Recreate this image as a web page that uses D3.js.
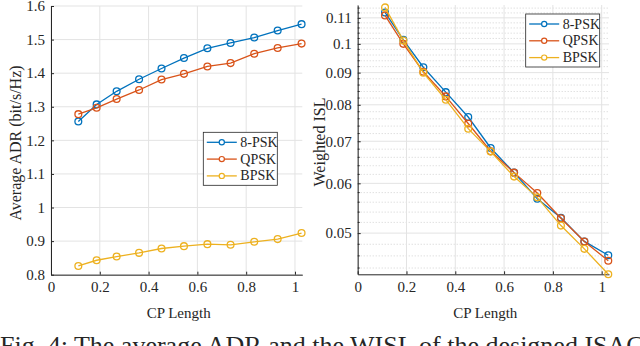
<!DOCTYPE html>
<html>
<head>
    <script src="https://d3js.org/d3.v7.min.js"></script>
    <style>
        body { margin: 0; background: #ffffff; }
        svg text { font-family: 'Liberation Serif', 'Times New Roman', serif; fill: #262626; }
    </style>
</head>
<body>
    <svg id="chart" width="640" height="346"></svg>
    <script>
        // values
        var cpLength = [0.112, 0.187, 0.269, 0.361, 0.453, 0.545, 0.641, 0.736, 0.833, 0.929, 1.027];
        var adr8psk = [1.256, 1.307, 1.346, 1.382, 1.414, 1.445, 1.474, 1.490, 1.506, 1.527, 1.546];
        var adrQpsk = [1.278, 1.297, 1.323, 1.350, 1.381, 1.398, 1.420, 1.430, 1.458, 1.475, 1.488];
        var adrBpsk = [0.826, 0.843, 0.854, 0.865, 0.878, 0.885, 0.891, 0.889, 0.898, 0.906, 0.924];
        var wisl8psk = [0.1122, 0.1015, 0.0918, 0.0838, 0.0765, 0.0683, 0.0624, 0.0567, 0.0529, 0.0485, 0.0461];
        var wislQpsk = [0.1110, 0.1000, 0.0903, 0.0825, 0.0747, 0.0675, 0.0624, 0.0579, 0.0528, 0.0485, 0.0452];
        var wislBpsk = [0.1143, 0.1012, 0.0900, 0.0815, 0.0733, 0.0674, 0.0615, 0.0570, 0.0514, 0.0472, 0.0430];
        var seriesNames = ["8-PSK", "QPSK", "BPSK"];
        var xTicks = [0, 0.2, 0.4, 0.6, 0.8, 1];
        var adrTicks = [0.8, 0.9, 1, 1.1, 1.2, 1.3, 1.4, 1.5, 1.6];
        var wislTicks = [0.05, 0.06, 0.07, 0.08, 0.09, 0.1, 0.11];
        var wislMinorTicks = [0.044, 0.046, 0.048, 0.052, 0.054, 0.056, 0.058, 0.062, 0.064, 0.066, 0.068,
            0.072, 0.074, 0.076, 0.078, 0.082, 0.084, 0.086, 0.088, 0.092, 0.094, 0.096, 0.098,
            0.102, 0.104, 0.106, 0.108, 0.112, 0.114];
        var caption = "Fig. 4: The average ADR and the WISL of the designed ISAC";

        var colors = ["#0072bd", "#d95319", "#edb120"];
        var axisColor = "#262626";
        var svg = d3.select("#chart");

        function drawPanel(opts) {
            var g = svg.append("g");
            var x = opts.x, y = opts.y;
            var x0 = x.range()[0], x1 = x.range()[1];
            var y0 = y.range()[0], y1 = y.range()[1];

            if (opts.minor) {
                g.selectAll(".minor").data(opts.minor).enter().append("line")
                    .attr("x1", x0).attr("x2", x1)
                    .attr("y1", function (d) { return y(d); })
                    .attr("y2", function (d) { return y(d); })
                    .attr("stroke", "#c8c8c8")
                    .attr("stroke-width", 0.8)
                    .attr("stroke-dasharray", "1,2");
            }
            g.selectAll(".hgrid").data(opts.yTicks).enter().append("line")
                .attr("x1", x0).attr("x2", x1)
                .attr("y1", function (d) { return y(d); })
                .attr("y2", function (d) { return y(d); })
                .attr("stroke", "#e3e3e3");
            g.selectAll(".vgrid").data(xTicks).enter().append("line")
                .attr("y1", y0).attr("y2", y1)
                .attr("x1", function (d) { return x(d); })
                .attr("x2", function (d) { return x(d); })
                .attr("stroke", "#e3e3e3");

            var xAxis = d3.axisBottom(x).tickValues(xTicks).tickFormat(d3.format("~g"))
                .tickSizeInner(-3).tickSizeOuter(0).tickPadding(7);
            var yAxis = d3.axisLeft(y).tickValues(opts.yTicks).tickFormat(d3.format("~g"))
                .tickSizeInner(-3).tickSizeOuter(0).tickPadding(6);

            var gx = g.append("g").attr("transform", "translate(0," + y0 + ")").call(xAxis);
            var gy = g.append("g").attr("transform", "translate(" + x0 + ",0)").call(yAxis);
            if (opts.minor) {
                g.selectAll(".mtick").data(opts.minor).enter().append("line")
                    .attr("x1", x0).attr("x2", x0 + 2)
                    .attr("y1", function (d) { return y(d); })
                    .attr("y2", function (d) { return y(d); })
                    .attr("stroke", axisColor);
            }
            [gx, gy].forEach(function (a) {
                a.selectAll("line,path").attr("stroke", axisColor);
                a.selectAll("text").style("font-size", "15px").attr("fill", axisColor);
            });

            opts.series.forEach(function (s, i) {
                g.append("path")
                    .datum(s)
                    .attr("fill", "none")
                    .attr("stroke", colors[i])
                    .attr("stroke-width", 1.3)
                    .attr("d", d3.line()
                        .x(function (d, j) { return x(cpLength[j]); })
                        .y(function (d) { return y(d); }));
                g.selectAll(".m" + i).data(s).enter().append("circle")
                    .attr("cx", function (d, j) { return x(cpLength[j]); })
                    .attr("cy", function (d) { return y(d); })
                    .attr("r", 3.4)
                    .attr("fill", "none")
                    .attr("stroke", colors[i])
                    .attr("stroke-width", 1.3);
            });

            g.append("text")
                .attr("x", (x0 + x1) / 2 + 2)
                .attr("y", 318)
                .attr("text-anchor", "middle")
                .style("font-size", "15px")
                .text("CP Length");
            g.append("text")
                .attr("transform", "translate(" + opts.ylabelX + "," + opts.ylabelY + ") rotate(-90)")
                .attr("text-anchor", "middle")
                .style("font-size", opts.ylabelSize)
                .text(opts.ylabel);

            // legend
            var lg = g.append("g").attr("transform", "translate(" + opts.legend[0] + "," + opts.legend[1] + ")");
            lg.append("rect")
                .attr("width", 74).attr("height", 53)
                .attr("fill", "#ffffff")
                .attr("stroke", axisColor)
                .attr("stroke-width", 0.8);
            seriesNames.forEach(function (n, i) {
                var ry = 10 + i * 16.8;
                lg.append("line")
                    .attr("x1", 3.5).attr("x2", 33.5)
                    .attr("y1", ry).attr("y2", ry)
                    .attr("stroke", colors[i]).attr("stroke-width", 1.3);
                lg.append("circle")
                    .attr("cx", 18.5).attr("cy", ry).attr("r", 2.6)
                    .attr("fill", "#ffffff")
                    .attr("stroke", colors[i]).attr("stroke-width", 1.2);
                lg.append("text")
                    .attr("x", 37).attr("y", ry + 4.5)
                    .style("font-size", "14px")
                    .text(n);
            });
        }

        drawPanel({
            x: d3.scaleLinear().domain([0, 1.03]).range([51, 302.3]),
            y: d3.scaleLinear().domain([0.8, 1.6]).range([274.7, 6]),
            yTicks: adrTicks,
            series: [adr8psk, adrQpsk, adrBpsk],
            ylabel: "Average ADR (bit/s/Hz)",
            ylabelX: 20.5, ylabelY: 143, ylabelSize: "16px",
            legend: [203.3, 132.3]
        });

        drawPanel({
            x: d3.scaleLinear().domain([0, 1.03]).range([357.7, 609]),
            y: d3.scaleLog().domain([0.043, 0.1153]).range([274.3, 5]),
            yTicks: wislTicks,
            minor: wislMinorTicks,
            series: [wisl8psk, wislQpsk, wislBpsk],
            ylabel: "Weighted ISL",
            ylabelX: 325, ylabelY: 142, ylabelSize: "16px",
            legend: [525.7, 14]
        });

        svg.append("text")
            .attr("x", 0)
            .attr("y", 354)
            .style("font-size", "26px")
            .text(caption);
    </script>
</body>
</html>
